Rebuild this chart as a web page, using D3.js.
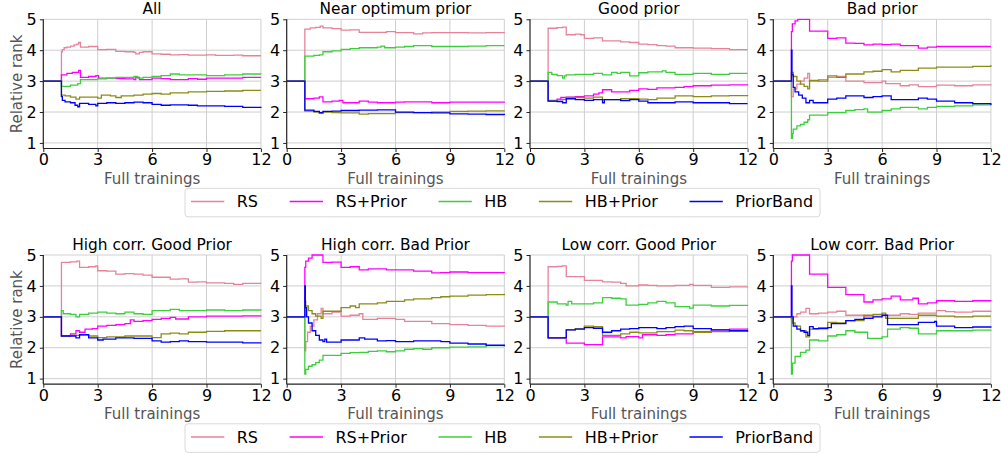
<!DOCTYPE html>
<html>
<head>
<meta charset="utf-8">
<script src="https://cdn.jsdelivr.net/npm/d3@7"></script>
<style>
  html, body { margin: 0; padding: 0; background: #fff; }
  svg { display: block; }
  svg text { font-family: "DejaVu Sans", sans-serif; font-weight: 400; }
</style>
</head>
<body>
<svg id="chart" width="1001" height="454"></svg>
<script>
// Method names, colours and panel titles
const methods = ["RS", "RS+Prior", "HB", "HB+Prior", "PriorBand"];
const colors = ["#e6839a", "#ff00ff", "#3ccf3c", "#8c8c14", "#0000ff"];
const titles = ["All", "Near optimum prior", "Good prior", "Bad prior",
  "High corr. Good Prior", "High corr. Bad Prior", "Low corr. Good Prior", "Low corr. Bad Prior"];
const xTicks = [0, 3, 6, 9, 12];
const yTicks = [1, 2, 3, 4, 5];

// Relative rank curves: [full trainings, rank] step points
const allRS = [[0,3],[1,3.95],[1.05,4.02],[1.15,4.08],[1.3,4.1],[1.5,4.13],[1.7,4.17],[1.85,4.2],[1.95,4.25],[2.05,4.1],[2.5,4.12],[3,4.02],[3.5,4.03],[4,3.96],[4.5,3.95],[5,3.93],[5.1,3.88],[5.3,3.93],[5.5,3.95],[6,3.88],[6.5,3.87],[7,3.85],[7.5,3.86],[8,3.84],[8.5,3.84],[9,3.85],[9.5,3.83],[10,3.83],[10.5,3.84],[11,3.82],[12,3.82]];
const allRSP = [[0,3],[1,3.2],[1.3,3.25],[1.6,3.28],[1.95,3.35],[2.05,3.12],[2.5,3.15],[2.9,3.18],[3.05,3.1],[4,3.08],[4.5,3.07],[5,3.05],[5.1,3.12],[5.3,3.05],[6,3.1],[6.5,3.08],[7,3.05],[8,3.08],[8.5,3.06],[9,3.1],[10,3.1],[11,3.12],[12,3.12]];
const allHB = [[0,3],[1,2.83],[1.5,2.87],[1.9,2.92],[2.05,3.05],[3,3.07],[3.5,3.1],[4,3.12],[5,3.15],[5.2,3.1],[5.5,3.12],[6,3.15],[6.5,3.18],[7,3.23],[7.5,3.2],[8,3.2],[9,3.18],[10,3.2],[11,3.23],[12,3.22]];
const allHBP = [[0,3],[1,2.55],[1.2,2.52],[1.5,2.48],[1.8,2.42],[2,2.48],[3,2.45],[3.2,2.55],[3.7,2.52],[4,2.47],[4.3,2.52],[5,2.55],[5.5,2.58],[6,2.6],[6.5,2.58],[7,2.62],[8,2.65],[9,2.67],[10,2.68],[11,2.7],[12,2.7]];
const allPB = [[0,3],[1,2.5],[1.05,2.38],[1.2,2.33],[1.5,2.3],[1.75,2.22],[1.9,2.17],[2,2.28],[2.5,2.25],[2.9,2.2],[3,2.28],[3.5,2.3],[4,2.28],[4.5,2.3],[5,2.32],[5.5,2.3],[6,2.25],[6.5,2.22],[7,2.23],[8,2.22],[8.5,2.2],[9,2.2],[10,2.18],[11,2.15],[12,2.13]];

const nearRS = [[0,3],[1,4.68],[1.3,4.72],[1.6,4.74],[1.85,4.78],[2,4.72],[2.5,4.7],[3,4.65],[3.5,4.66],[4,4.58],[5,4.58],[5.5,4.6],[6,4.57],[6.5,4.57],[7,4.53],[7.5,4.56],[8,4.57],[9,4.57],[10,4.56],[11,4.57],[12,4.55]];
const nearRSP = [[0,3],[1,2.43],[1.5,2.45],[1.8,2.49],[2,2.33],[2.5,2.35],[2.9,2.38],[3.1,2.3],[3.5,2.3],[4,2.35],[4.5,2.32],[5,2.3],[6,2.32],[6.5,2.33],[7,2.33],[8,2.3],[9,2.32],[10,2.32],[12,2.33]];
const nearHB = [[0,3],[1,3.81],[1.5,3.83],[1.8,3.85],[2,3.95],[2.5,3.98],[3,4.03],[3.5,4.05],[4,4.08],[5,4.1],[5.2,4.13],[5.4,4.08],[6,4.1],[6.5,4.12],[7,4.15],[7.5,4.15],[8,4.12],[9,4.12],[10,4.13],[11,4.15],[12,4.15]];
const nearHBP = [[0,3],[1,2.03],[1.5,2.0],[1.8,1.96],[2,2.0],[2.5,1.98],[3,1.97],[4,1.93],[4.5,1.95],[5,1.95],[6,1.98],[7,1.98],[8,2.0],[9,2.02],[10,2.03],[11,2.04],[12,2.05]];
const nearPB = [[0,3],[1,2.06],[1.5,2.02],[1.8,1.98],[2,2.02],[2.5,2.03],[3,2.05],[4,2.06],[5,2.07],[6,2.0],[7,1.98],[8,1.97],[9,1.94],[10,1.93],[11,1.92],[12,1.9]];

const goodRS = [[0,3],[1,4.71],[1.5,4.73],[1.8,4.75],[2,4.5],[2.5,4.52],[2.8,4.5],[3,4.38],[3.5,4.4],[4,4.3],[4.5,4.3],[5,4.27],[5.5,4.25],[6,4.2],[6.5,4.18],[7,4.15],[7.5,4.13],[8,4.08],[8.5,4.08],[9,4.07],[10,4.05],[11,4.02],[12,4.02]];
const goodRSP = [[0,3],[1,2.35],[1.5,2.42],[1.7,2.47],[2,2.48],[2.5,2.5],[3,2.52],[3.5,2.58],[3.8,2.62],[4,2.72],[4.5,2.65],[5,2.65],[5.5,2.7],[6,2.75],[6.5,2.73],[7,2.78],[8,2.8],[8.5,2.82],[9,2.85],[10,2.87],[11,2.88],[12,2.9]];
const goodHB = [[0,3],[1,3.28],[1.2,3.22],[1.5,3.18],[1.8,3.1],[1.9,3.17],[2,3.2],[2.5,3.22],[3,3.22],[3.5,3.25],[4,3.2],[4.5,3.28],[4.8,3.25],[5,3.28],[5.5,3.17],[6,3.27],[6.5,3.3],[7,3.3],[7.3,3.33],[7.5,3.28],[8,3.22],[9,3.25],[10,3.22],[11,3.25],[12,3.25]];
const goodHBP = [[0,3],[1,2.38],[1.5,2.4],[2,2.47],[3,2.45],[3.5,2.48],[4,2.4],[5,2.43],[6,2.42],[6.5,2.4],[7,2.45],[8,2.52],[9,2.5],[10,2.52],[11,2.53],[12,2.55]];
const goodPB = [[0,3],[1,2.35],[1.5,2.34],[1.8,2.3],[2,2.43],[2.5,2.4],[3,2.38],[3.5,2.4],[4,2.3],[4.1,2.4],[5,2.37],[5.5,2.4],[6,2.35],[6.5,2.3],[7,2.3],[8,2.33],[9,2.3],[10,2.3],[11,2.27],[12,2.27]];

const badRS = [[0,3],[1,2.5],[1.1,2.75],[1.3,2.9],[1.5,3.0],[1.7,3.1],[1.9,3.25],[2,3.0],[2.5,3.05],[3,3.12],[3.5,3.15],[4,3.0],[5,2.95],[6,3.0],[6.2,2.92],[7,2.85],[7.5,2.88],[8,2.82],[9,2.87],[10,2.85],[11,2.88],[12,2.86]];
const badRSP = [[0,3],[1,4.6],[1.05,4.85],[1.2,4.95],[1.35,5],[2,4.62],[3,4.38],[3.5,4.4],[4,4.23],[4.5,4.22],[5,4.17],[5.5,4.2],[6,4.18],[6.5,4.2],[7,4.15],[8,4.07],[8.5,4.1],[9,4.12],[10,4.12],[11,4.12],[12,4.12]];
const badHB = [[0,3],[1,1.15],[1.05,1.3],[1.1,1.45],[1.3,1.55],[1.5,1.6],[1.7,1.67],[1.9,1.75],[2,1.9],[2.5,1.9],[3,1.98],[4,2.05],[4.5,2.08],[5,2.1],[5.2,2.0],[6,2.05],[6.5,2.1],[7,2.15],[7.5,2.15],[8,2.1],[8.5,2.15],[9,2.18],[10,2.2],[11,2.23],[12,2.25]];
const badHBP = [[0,3],[1,3.28],[1.1,3.15],[1.3,3.0],[1.5,2.9],[1.7,2.83],[1.9,2.75],[2,3.02],[2.5,3.0],[3,3.17],[3.5,3.12],[4,3.23],[5,3.3],[5.5,3.32],[6,3.37],[6.5,3.3],[7,3.35],[8,3.42],[9,3.45],[10,3.45],[11,3.48],[12,3.52]];
const badPB = [[0,3],[1,4.0],[1.03,3.2],[1.1,2.8],[1.2,2.65],[1.4,2.55],[1.6,2.45],[1.8,2.3],[2,2.38],[2.2,2.3],[3,2.42],[3.5,2.45],[4,2.52],[5,2.47],[5.5,2.5],[6,2.52],[6.5,2.4],[7,2.4],[8,2.45],[8.5,2.42],[9,2.35],[10,2.3],[11,2.27],[12,2.23]];

const hgRS = [[0,3],[1,4.76],[1.5,4.78],[1.85,4.8],[2,4.6],[2.5,4.62],[2.9,4.65],[3,4.49],[3.5,4.48],[4,4.38],[4.5,4.4],[5,4.38],[5.5,4.35],[6,4.28],[6.5,4.28],[7,4.22],[7.5,4.23],[8,4.12],[8.5,4.13],[9,4.1],[10,4.08],[10.5,4.05],[11,4.08],[12,4.07]];
const hgRSP = [[0,3],[1,2.38],[1.5,2.45],[1.8,2.55],[2,2.5],[2.3,2.6],[2.7,2.62],[3,2.7],[3.5,2.72],[4,2.75],[4.5,2.78],[4.8,2.9],[5,2.85],[5.5,2.88],[6,2.92],[6.5,2.95],[7,2.98],[7.3,2.93],[8,3.0],[9,3.02],[10,3.02],[11,3.03],[12,3.05]];
const hgHB = [[0,3],[1,3.2],[1.1,3.1],[1.5,3.08],[1.8,3.0],[2,3.08],[2.5,3.12],[3,3.15],[3.5,3.12],[4,3.1],[4.5,3.15],[5,3.1],[5.5,3.08],[6,3.2],[6.5,3.2],[7,3.24],[7.5,3.2],[8,3.2],[9,3.22],[10,3.2],[11,3.22],[12,3.2]];
const hgHBP = [[0,3],[1,2.38],[1.5,2.4],[2,2.42],[2.5,2.38],[3,2.33],[3.5,2.35],[4,2.35],[4.5,2.38],[5,2.38],[6,2.33],[6.5,2.45],[7,2.47],[7.5,2.45],[8,2.5],[9,2.53],[10,2.55],[11,2.55],[12,2.55]];
const hgPB = [[0,3],[1,2.38],[1.5,2.38],[1.8,2.32],[2,2.42],[2.5,2.32],[3,2.25],[3.3,2.28],[4,2.32],[4.5,2.32],[5,2.3],[6,2.22],[6.5,2.18],[7,2.2],[7.5,2.22],[8,2.2],[9,2.18],[10,2.18],[11,2.16],[12,2.14]];

const hbRS = [[0,3],[1,1.9],[1.05,2.2],[1.15,2.5],[1.3,2.7],[1.5,2.9],[1.7,3.1],[1.9,3.27],[2,3.1],[2.5,3.15],[3,3.02],[3.5,3.05],[4,3.1],[4.2,2.92],[5,2.95],[6,2.92],[6.5,2.85],[7,2.85],[8,2.78],[9,2.75],[10,2.72],[11,2.7],[12,2.68]];
const hbRSP = [[0,3],[1,4.6],[1.05,4.8],[1.2,4.9],[1.4,5],[2,4.76],[2.5,4.77],[3,4.6],[3.5,4.62],[4,4.52],[4.5,4.55],[5,4.55],[5.5,4.52],[6,4.52],[7,4.48],[8,4.42],[8.5,4.43],[9,4.45],[10,4.43],[11,4.43],[12,4.42]];
const hbHB = [[0,3],[1,1.15],[1.05,1.3],[1.2,1.4],[1.4,1.45],[1.6,1.52],[1.8,1.6],[2,1.75],[2.5,1.75],[3,1.82],[3.5,1.84],[4,1.85],[4.5,1.88],[5,1.9],[5.5,1.87],[6,1.9],[6.5,1.95],[7,1.97],[7.5,1.95],[8,2.0],[9,2.02],[10,2.03],[11,2.07],[12,2.08]];
const hbHBP = [[0,3],[1,3.5],[1.05,3.35],[1.2,3.2],[1.4,3.1],[1.6,3.02],[1.9,2.95],[2,3.18],[2.5,3.18],[3,3.3],[3.5,3.35],[3.8,3.3],[4,3.42],[5,3.45],[5.5,3.5],[6,3.5],[6.5,3.55],[7,3.58],[8,3.62],[8.5,3.65],[9,3.67],[10,3.7],[11,3.72],[12,3.75]];
const hbPB = [[0,3],[1,4.0],[1.03,3.3],[1.1,3.0],[1.2,2.8],[1.4,2.55],[1.6,2.4],[1.8,2.25],[2,2.2],[2.1,2.28],[2.2,2.18],[3,2.25],[3.5,2.25],[4,2.32],[4.3,2.28],[5,2.22],[5.5,2.23],[6,2.2],[7,2.22],[8,2.22],[8.5,2.2],[9,2.15],[10,2.12],[11,2.08],[12,2.05]];

const lgRS = [[0,3],[1,4.62],[1.5,4.63],[1.8,4.65],[2,4.3],[3,4.18],[3.5,4.18],[4,4.13],[4.5,4.12],[5,4.08],[5.3,4.0],[6,4.03],[6.5,4.02],[7,4.0],[8,4.02],[8.8,4.05],[9,4.02],[10,3.95],[11,3.97],[12,3.95]];
const lgRSP = [[0,3],[1,2.32],[2,2.15],[2.5,2.15],[3,2.1],[3.5,2.1],[4,2.35],[5,2.32],[5.3,2.36],[6,2.32],[6.2,2.42],[7,2.4],[7.5,2.42],[8,2.45],[9,2.52],[10,2.58],[11,2.6],[12,2.63]];
const lgHB = [[0,3],[1,3.48],[1.5,3.42],[2,3.38],[2.1,3.5],[2.3,3.42],[3,3.42],[3.5,3.45],[4,3.62],[4.5,3.6],[5,3.58],[5.3,3.38],[6,3.4],[6.5,3.45],[7,3.5],[7.5,3.45],[8,3.33],[8.8,3.28],[9,3.38],[10,3.35],[11,3.37],[12,3.35]];
const lgHBP = [[0,3],[1,2.32],[2,2.58],[2.5,2.62],[3,2.7],[3.5,2.68],[4,2.4],[5,2.45],[5.5,2.5],[6,2.48],[7,2.52],[8,2.57],[8.5,2.55],[9,2.5],[10,2.52],[11,2.54],[12,2.55]];
const lgPB = [[0,3],[1,2.32],[1.9,2.33],[2,2.58],[2.5,2.6],[3,2.65],[3.5,2.63],[4,2.5],[4.5,2.55],[5,2.6],[5.5,2.62],[6,2.65],[7,2.62],[7.5,2.65],[8,2.68],[8.5,2.7],[9,2.62],[10,2.58],[11,2.55],[12,2.52]];

const lbRS = [[0,3],[1,2.9],[1.1,3.0],[1.3,3.1],[1.5,3.15],[1.8,3.27],[2,3.1],[2.5,3.12],[3,3.15],[3.5,3.18],[4,3.05],[5,3.0],[5.5,3.02],[6,3.05],[7,3.1],[7.5,3.08],[8,3.12],[9,3.2],[9.5,3.17],[10,3.15],[11,3.18],[12,3.2]];
const lbRSP = [[0,3],[1,4.8],[1.05,5],[2,4.38],[3,3.95],[4,3.72],[5,3.48],[5.5,3.55],[6,3.58],[6.5,3.67],[7,3.55],[7.7,3.6],[8,3.42],[8.5,3.45],[9,3.52],[10,3.5],[11,3.52],[12,3.5]];
const lbHB = [[0,3],[1,1.15],[1.05,1.5],[1.2,1.72],[1.5,1.85],[1.8,1.92],[2,2.25],[2.5,2.22],[3,2.38],[3.5,2.42],[4,2.55],[4.5,2.5],[5,2.5],[5.2,2.3],[6,2.35],[6.3,2.6],[7,2.65],[7.5,2.63],[8,2.45],[8.5,2.45],[9,2.55],[10,2.55],[11,2.57],[12,2.58]];
const lbHBP = [[0,3],[1,2.95],[1.05,2.8],[1.2,2.7],[1.5,2.55],[1.8,2.35],[2,2.6],[2.5,2.65],[3,2.82],[3.5,2.8],[4,2.88],[5,3.05],[5.5,3.08],[6,3.12],[6.2,2.95],[7,2.95],[8,3.05],[9,3.02],[10,3.0],[11,3.02],[12,3.02]];
const lbPB = [[0,3],[1,4.0],[1.03,3.0],[1.1,2.7],[1.3,2.6],[1.5,2.55],[1.7,2.5],[1.9,2.4],[2,2.68],[2.2,2.62],[3,2.65],[3.2,2.78],[4,2.88],[4.5,2.92],[5,2.95],[5.5,3.0],[6,3.05],[6.3,2.75],[7,2.75],[8,2.82],[8.9,2.85],[9,2.7],[10,2.65],[11,2.67],[12,2.65]];

// Panel table built from the arrays above (series in method order)
const panelSeries = [
  [allRS, allRSP, allHB, allHBP, allPB],
  [nearRS, nearRSP, nearHB, nearHBP, nearPB],
  [goodRS, goodRSP, goodHB, goodHBP, goodPB],
  [badRS, badRSP, badHB, badHBP, badPB],
  [hgRS, hgRSP, hgHB, hgHBP, hgPB],
  [hbRS, hbRSP, hbHB, hbHBP, hbPB],
  [lgRS, lgRSP, lgHB, lgHBP, lgPB],
  [lbRS, lbRSP, lbHB, lbHBP, lbPB]
];

const svg = d3.select("#chart");
const colLeft = [43.3, 286.7, 530, 773.3];
const plotW = 217.6;
const rowTop = [19.3, 255];
const plotH = 129.2;
const labelGray = "#555";
const FONT = "DejaVu Sans, sans-serif";

panelSeries.forEach((series, i) => {
  const col = i % 4, row = Math.floor(i / 4);
  const left = colLeft[col], top = rowTop[row];
  const x = d3.scaleLinear().domain([0, 12]).range([left, left + plotW]);
  const y = d3.scaleLinear().domain([0.82, 5]).range([top + plotH, top]);
  const g = svg.append("g");

  // grid
  g.append("g").selectAll("line").data(xTicks.slice(1)).join("line")
    .attr("x1", d => x(d)).attr("x2", d => x(d))
    .attr("y1", top).attr("y2", top + plotH)
    .attr("stroke", "#cfcfcf").attr("stroke-width", 1);
  g.append("g").selectAll("line").data(yTicks).join("line")
    .attr("x1", left).attr("x2", left + plotW)
    .attr("y1", d => y(d)).attr("y2", d => y(d))
    .attr("stroke", "#cfcfcf").attr("stroke-width", 1);

  // step lines
  const clipId = "clip" + i;
  svg.append("clipPath").attr("id", clipId).append("rect")
    .attr("x", left).attr("y", top - 1).attr("width", plotW + 1).attr("height", plotH + 1);
  const line = d3.line().x(d => x(d[0])).y(d => y(d[1])).curve(d3.curveStepAfter);
  const lg = g.append("g").attr("clip-path", `url(#${clipId})`);
  series.forEach((s, k) => {
    lg.append("path").attr("d", line(s)).attr("fill", "none")
      .attr("stroke", colors[k]).attr("stroke-width", 1.3);
  });

  // axes
  const xAxis = d3.axisBottom(x).tickValues(xTicks).tickFormat(d3.format("d"))
    .tickSize(3.5).tickPadding(2).tickSizeOuter(0);
  const yAxis = d3.axisLeft(y).tickValues(yTicks).tickFormat(d3.format("d"))
    .tickSize(3.5).tickPadding(3).tickSizeOuter(0);
  const gx = g.append("g").attr("transform", `translate(0,${top + plotH})`).call(xAxis);
  const gy = g.append("g").attr("transform", `translate(${left},0)`).call(yAxis);
  [gx, gy].forEach(a => {
    a.attr("font-family", FONT).attr("font-size", 16);
    a.select(".domain").remove();
    a.selectAll(".tick line").attr("stroke", "#222").attr("stroke-width", 1);
    a.selectAll(".tick text").attr("fill", "#000");
  });
  // spines
  g.append("line").attr("x1", left).attr("x2", left + plotW)
    .attr("y1", top + plotH).attr("y2", top + plotH).attr("stroke", "#222").attr("stroke-width", 1.2);
  g.append("line").attr("x1", left).attr("x2", left)
    .attr("y1", top).attr("y2", top + plotH).attr("stroke", "#222").attr("stroke-width", 1.2);

  // titles and labels
  g.append("text").attr("x", left + plotW / 2).attr("y", top - 5)
    .attr("text-anchor", "middle").attr("font-size", 15.4).attr("fill", "#000")
    .text(titles[i]);
  g.append("text").attr("x", left + plotW / 2).attr("y", top + plotH + 35.2)
    .attr("text-anchor", "middle").attr("fill", labelGray).attr("font-size", 15)
    .text("Full trainings");
  if (col === 0) {
    g.append("text")
      .attr("transform", `translate(22,${top + plotH / 2}) rotate(-90)`)
      .attr("text-anchor", "middle").attr("fill", labelGray).attr("font-size", 15)
      .text("Relative rank");
  }
});

// legends below each row
[188.3, 423.8].forEach(ly => {
  const lg = svg.append("g");
  const box = lg.append("rect").attr("x", 185).attr("y", ly).attr("height", 28.5)
    .attr("rx", 3).attr("fill", "#fff").attr("stroke", "#d9d9d9").attr("stroke-width", 1);
  const cy = ly + 13.2;
  let cx = 191;
  methods.forEach((m, k) => {
    lg.append("line").attr("x1", cx).attr("x2", cx + 33.3).attr("y1", cy).attr("y2", cy)
      .attr("stroke", colors[k]).attr("stroke-width", 1.3);
    const t = lg.append("text").attr("x", cx + 45.7).attr("y", cy + 5.7)
      .attr("font-size", 16).attr("fill", "#000").text(m);
    const w = t.node().getComputedTextLength();
    cx = cx + 45.7 + w + 31.7;
    if (k === methods.length - 1) box.attr("width", (cx - 31.7 + 7) - 185);
  });
});
</script>
</body>
</html>
